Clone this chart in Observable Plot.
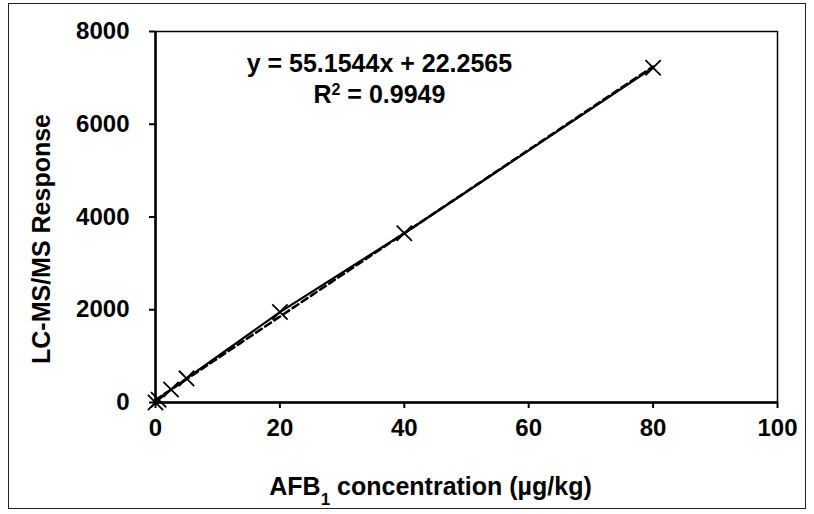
<!DOCTYPE html>
<html>
<head>
<meta charset="utf-8">
<script src="https://cdn.jsdelivr.net/npm/d3@7"></script>
<script src="https://cdn.jsdelivr.net/npm/@observablehq/plot@0.6"></script>
<style>
  html, body { margin: 0; padding: 0; background: #fff; }
  #wrap { position: relative; width: 814px; height: 514px; }
  #border { position: absolute; left: 8px; top: 3px; width: 798px; height: 506px; border: 1.5px solid #222; box-sizing: border-box; pointer-events: none; }
  svg { font-family: "Liberation Sans", Arial, sans-serif; }
</style>
</head>
<body>
<div id="wrap"><div id="border"></div></div>
<script>
// Data
const concentration = [0, 0.5, 2.5, 5, 20, 40, 80];
const response = [0, 60, 280, 520, 1950, 3650, 7220];
const xTicks = [0, 20, 40, 60, 80, 100];
const yTicks = [0, 2000, 4000, 6000, 8000];
const equationLines = ["y = 55.1544x + 22.2565", "R² = 0.9949"];
const equationX = [36.0, 36.0];
const equationY = [7300, 6620];
const xTitle = "AFB1 concentration (µg/kg)";
const yTitle = "LC-MS/MS Response";

const data = concentration.map((c, i) => ({x: c, y: response[i]}));
const eq = equationLines.map((t, i) => ({t, x: equationX[i], y: equationY[i]}));

const chart = Plot.plot({
  width: 814,
  height: 514,
  marginLeft: 155,
  marginRight: 37,
  marginTop: 31,
  marginBottom: 112,
  style: {fontFamily: "'Liberation Sans', Arial, sans-serif", fontSize: "24px", fontWeight: "bold", color: "#000", background: "transparent"},
  x: {domain: [0, 100]},
  y: {domain: [0, 8000]},
  marks: [
    Plot.frame({stroke: "#000", strokeWidth: 1.5}),
    Plot.axisX({ticks: xTicks, tickSize: 6, tickPadding: 10, strokeWidth: 2, fontSize: 24, fontWeight: "bold", label: null}),
    Plot.axisY({ticks: yTicks, tickSize: 6, tickPadding: 20, strokeWidth: 2, fontSize: 24, fontWeight: "bold",
      tickFormat: d => String(d), label: null}),
    Plot.text([xTitle], {frameAnchor: "bottom", dx: -36, dy: 84, fontSize: 25, fontWeight: "bold", fill: "#000", textAnchor: "middle", lineAnchor: "middle"}),
    Plot.text([yTitle], {frameAnchor: "left", rotate: -90, dx: -114, dy: 22, fontSize: 25, fontWeight: "bold", fill: "#000", textAnchor: "middle", lineAnchor: "middle"}),
    Plot.ruleX([0], {stroke: "#000", strokeWidth: 2.5}),
    Plot.ruleY([0], {stroke: "#000", strokeWidth: 2.5}),
    Plot.linearRegressionY(data, {x: "x", y: "y", stroke: "#000", strokeWidth: 2.5, strokeDasharray: "7,4", ci: 0}),
    Plot.line(data, {x: "x", y: "y", stroke: "#000", strokeWidth: 2.2}),
    Plot.dot(data, {x: "x", y: "y", symbol: "times", r: 7, stroke: "#000", strokeWidth: 1.8}),
    Plot.text(eq, {x: "x", y: "y", text: "t", fontSize: 25, fontWeight: "bold", fill: "#000", textAnchor: "middle", lineAnchor: "middle"})
  ]
});

// Real subscript / superscript in texts
d3.select(chart).selectAll("text").each(function() {
  const el = d3.select(this);
  const s = el.text();
  if (s === xTitle) {
    el.text("");
    el.append("tspan").text("AFB");
    el.append("tspan").attr("baseline-shift", "sub").attr("font-size", "17px").text("1");
    el.append("tspan").text(" concentration (µg/kg)");
  } else if (s === "R² = 0.9949") {
    el.text("");
    el.append("tspan").text("R");
    el.append("tspan").attr("baseline-shift", "super").attr("font-size", "16px").text("2");
    el.append("tspan").text(" = 0.9949");
  }
});

document.getElementById("wrap").prepend(chart);
chart.style.position = "absolute";
chart.style.left = "0";
chart.style.top = "0";
</script>
</body>
</html>
